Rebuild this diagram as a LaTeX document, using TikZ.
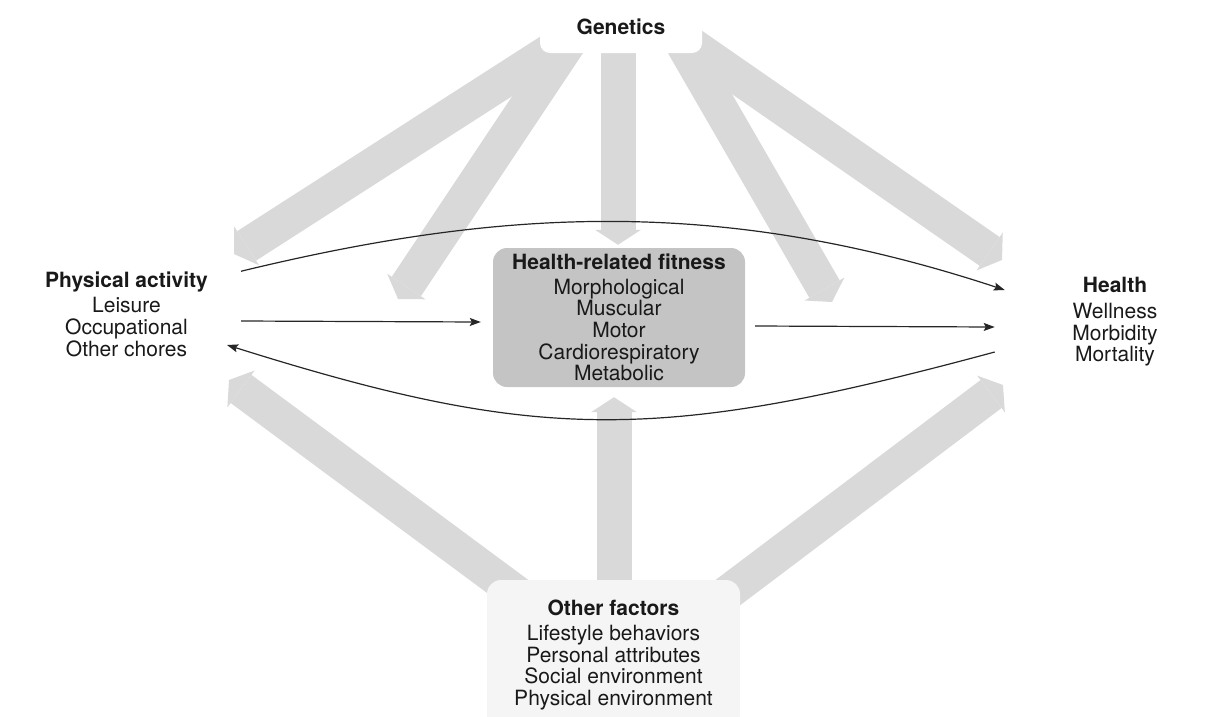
\documentclass[tikz,border=0pt]{standalone}
\usepackage{fontspec}
\setmainfont{TeX Gyre Heros}
\usetikzlibrary{arrows.meta,backgrounds}

\begin{document}
\begin{tikzpicture}[x=1pt,y=-1pt,
    txt/.style={align=center,text=black!90,font=\fontsize{21}{21.7}\selectfont},
    fatarrow/.style={draw=black!15,line width=35pt,-{Triangle[width=46pt,length=15pt,line width=0pt 0]}},
    link/.style={draw=black!85,line width=1.2pt,-{Stealth[length=11pt,width=8pt,inset=2pt]}}]
    \useasboundingbox (0,0) rectangle (1219,716);
    \providecommand{\headfont}{\bfseries}
    \node[txt,fill=white,rounded corners=10pt,minimum width=162pt,minimum height=52pt] (gen) at (621,27) {\headfont Genetics};
    \node[txt,fill=black!23,rounded corners=14pt,minimum width=252pt,minimum height=139pt] (hrf) at (619,317.5)
        {{\headfont Health-related fitness}\\[3pt] Morphological\\ Muscular\\ Motor\\ Cardiorespiratory\\ Metabolic};
    \node[txt,fill=black!4,rounded corners=14pt,minimum width=253pt,minimum height=150pt] (oth) at (613.5,655)
        {{\headfont Other factors}\\[3pt] Lifestyle behaviors\\ Personal attributes\\ Social environment\\ Physical environment};
    \node[txt,inner xsep=33pt,inner ysep=0pt] (pa) at (126.5,314)
        {{\headfont Physical activity}\\[4pt] Leisure\\ Occupational\\ Other chores};
    \node[txt,inner xsep=67.5pt,inner ysep=0pt] (health) at (1115,322)
        {{\headfont Health}\\[4pt] Wellness\\ Morbidity\\ Mortality};

    % ends of the broad arrows
    \coordinate (gpa) at (234,254);
    \coordinate (gfl) at (398,299);
    \coordinate (gfr) at (832,302);
    \coordinate (ghe) at (1002,260);
    \coordinate (opa) at (229,380);
    \coordinate (ohe) at (1003,385);

    \begin{scope}[on background layer]
        \draw[fatarrow] ([xshift=-21pt,yshift=8pt]gen.center) -- (gpa);
        \draw[fatarrow] ([xshift=-37pt,yshift=7pt]gen.center) -- (gfl);
        \draw[fatarrow] ([xshift=-3pt]gen.center) -- ([xshift=-1pt,yshift=3pt]hrf.north);
        \draw[fatarrow] ([xshift=48pt,yshift=7pt]gen.center) -- (gfr);
        \draw[fatarrow] ([xshift=29pt,yshift=11pt]gen.center) -- (ghe);
        \draw[fatarrow] ([xshift=-87.5pt,yshift=55pt]oth.center) -- (opa);
        \draw[fatarrow] ([xshift=0.5pt]oth.center) -- ([xshift=-5pt,yshift=-10pt]hrf.south);
        \draw[fatarrow] ([xshift=104.5pt,yshift=55pt]oth.center) -- (ohe);
    \end{scope}

    \draw[link] (pa.north east) .. controls +(260,-63) and +(-285,-94) .. ([yshift=32pt]health.west);
    \draw[link] ([yshift=-7pt]pa.east) -- ([xshift=-12pt,yshift=-4.5pt]hrf.west);
    \draw[link] ([xshift=10pt,yshift=-8.5pt]hrf.east) -- ([xshift=-10pt,yshift=-5pt]health.west);
    \draw[link] ([xshift=-10pt,yshift=-30pt]health.west) .. controls +(-337,91) and +(312,98) .. ([xshift=-14pt,yshift=-31pt]pa.east);
\end{tikzpicture}
\end{document}
